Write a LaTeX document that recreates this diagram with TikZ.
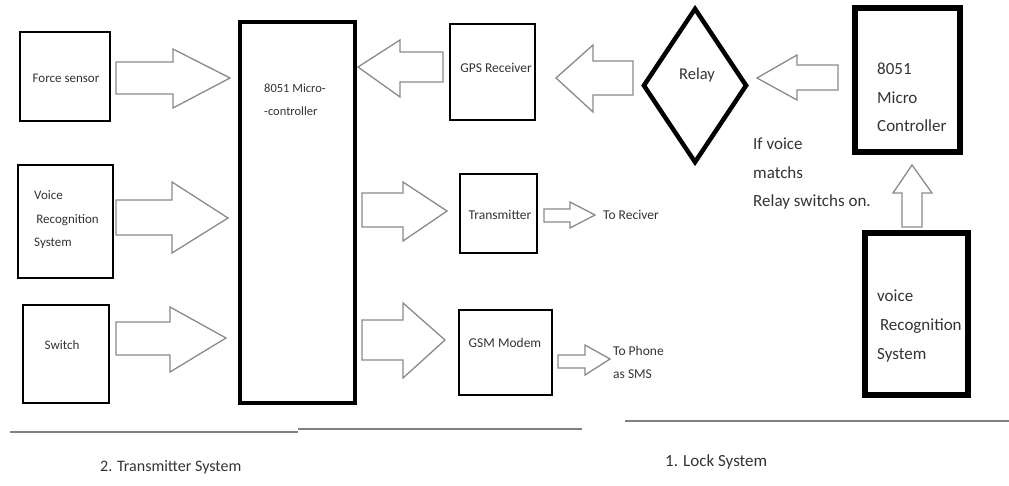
\documentclass[tikz,border=0pt]{standalone}
\usepackage{fontspec}
\setmainfont{Carlito}
\usetikzlibrary{shapes.geometric}
\definecolor{txt}{HTML}{333333}
\definecolor{arr}{HTML}{8A8A8A}
\begin{document}
\begin{tikzpicture}[x=1pt,y=-1pt,
  box/.style={draw=black,line width=2.8pt,inner sep=0pt},
  mbox/.style={draw=black,line width=3.8pt,inner sep=0pt},
  bbox/.style={draw=black,line width=5.5pt,inner sep=0pt},
  lbl/.style={text=txt,inner sep=0pt,align=left},
  barrow/.style={draw=arr,line width=1.3pt,fill=white,line join=miter},
  rule/.style={draw=gray,line width=1.6pt}]
\useasboundingbox (0,0) rectangle (1009,486);
% left boxes
\node[box,minimum width=90pt,minimum height=89pt] (fs) at (65,76.5) {};
\node[lbl,font=\fontsize{13}{15}\selectfont] (fst) at (66,78) {Force sensor};
\node[box,minimum width=95pt,minimum height=113pt] (vr) at (65.5,221.5) {};
\node[lbl,anchor=west,font=\fontsize{13}{23.5}\selectfont] (vrt) at (34,220) {Voice\\\,Recognition\\System};
\node[box,minimum width=86pt,minimum height=98pt] (sw) at (66,354) {};
\node[lbl,font=\fontsize{13}{15}\selectfont] (swt) at (62,345) {Switch};
% microcontroller
\node[mbox,minimum width=115pt,minimum height=381pt] (mc) at (297.5,212.5) {};
\node[lbl,anchor=north west,font=\fontsize{12.5}{22.5}\selectfont] (mct) at (264,84) {8051 Micro-\\-controller};
% middle boxes
\node[box,minimum width=85pt,minimum height=96pt] (gps) at (492.5,72) {};
\node[lbl,font=\fontsize{13.5}{15}\selectfont] (gpst) at (496,68) {GPS Receiver};
\node[box,minimum width=77pt,minimum height=79pt] (tx) at (498.5,213.5) {};
\node[lbl,font=\fontsize{13.5}{15}\selectfont] (txt1) at (500,215) {Transmitter};
\node[box,minimum width=93pt,minimum height=85pt] (gsm) at (505.5,352.5) {};
\node[lbl,font=\fontsize{13.5}{15}\selectfont] (gsmt) at (505,343) {GSM Modem};
\node[lbl,anchor=west,font=\fontsize{13.5}{15}\selectfont] (torx) at (603,215) {To Reciver};
\node[lbl,anchor=north west,font=\fontsize{13.5}{22.5}\selectfont] (toph) at (613,346) {To Phone\\as SMS};
% relay and lock system
\node[diamond,draw=black,line width=4.5pt,minimum width=104pt,minimum height=155pt,inner sep=0pt] (relay) at (695,85.5) {};
\node[lbl,font=\fontsize{16.5}{18}\selectfont] (relayt) at (697,75) {Relay};
\node[bbox,minimum width=105pt,minimum height=144pt] (mc2) at (907.5,80) {};
\node[lbl,anchor=north west,font=\fontsize{17}{28.5}\selectfont] (mc2t) at (877,63) {8051\\Micro\\Controller};
\node[bbox,minimum width=103pt,minimum height=162pt] (vr2) at (916.5,314) {};
\node[lbl,anchor=north west,font=\fontsize{17}{29}\selectfont] (vr2t) at (877,290) {voice\\\,Recognition\\System};
\node[lbl,anchor=north west,font=\fontsize{17}{28.5}\selectfont] (note) at (753,138) {If voice\\matchs\\Relay switchs on.};
% block arrows
\draw[barrow] (116,62)--(173,62)--(173,49)--(230,78)--(173,108)--(173,94)--(116,94)--cycle;
\draw[barrow] (116,200)--(172,200)--(172,182)--(228,218)--(172,253)--(172,235)--(116,235)--cycle;
\draw[barrow] (116,322)--(170,322)--(170,307)--(226,338)--(170,372)--(170,355)--(116,355)--cycle;
\draw[barrow] (443,52)--(400,52)--(400,40)--(358,67)--(400,97)--(400,82)--(443,82)--cycle;
\draw[barrow] (633,61)--(593,61)--(593,45)--(556,78)--(593,112)--(593,95)--(633,95)--cycle;
\draw[barrow] (838,65)--(797,65)--(797,55)--(757,78)--(797,100)--(797,90)--(838,90)--cycle;
\draw[barrow] (902,227)--(902,193)--(893,193)--(912,165)--(932,193)--(922,193)--(922,227)--cycle;
\draw[barrow] (362,193)--(403,193)--(403,182)--(447,211)--(403,241)--(403,227)--(362,227)--cycle;
\draw[barrow] (544,209)--(570,209)--(570,202)--(595,215)--(570,228)--(570,222)--(544,222)--cycle;
\draw[barrow] (362,320)--(403,320)--(403,303)--(445,340)--(403,378)--(403,360)--(362,360)--cycle;
\draw[barrow] (558,355)--(585,355)--(585,345)--(610,359)--(585,375)--(585,368)--(558,368)--cycle;
% rules and captions
\draw[rule] (10,432)--(298,432);
\draw[rule] (298,429)--(582,429);
\draw[rule] (625,421)--(1009,421);
\node[lbl,anchor=west,font=\fontsize{16}{18}\selectfont] (cap2) at (100,467) {2. Transmitter System};
\node[lbl,anchor=west,font=\fontsize{17}{18}\selectfont] (cap1) at (665,462) {1. Lock System};
\end{tikzpicture}
\end{document}
